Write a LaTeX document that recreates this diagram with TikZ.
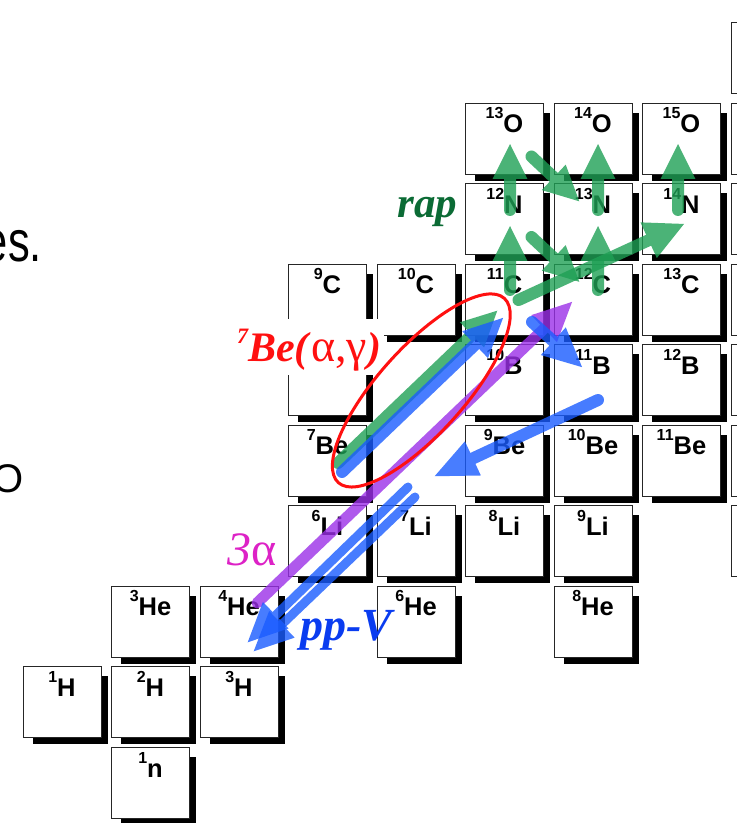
\documentclass[tikz,border=0pt]{standalone}
\usepackage{fontspec}
\setmainfont{Liberation Serif}
\setsansfont{Liberation Sans}
\usetikzlibrary{calc,arrows.meta,shapes.geometric,shadows}
\definecolor{rapgreen}{HTML}{1FA055}
\definecolor{rapink}{HTML}{0B6B35}
\definecolor{ppblue}{HTML}{1A5CFF}
\definecolor{ppink}{HTML}{0A3CF0}
\definecolor{tripleviolet}{HTML}{9B30E8}
\definecolor{tripleink}{HTML}{DD22C6}
\definecolor{ringred}{HTML}{FF1010}
\newcommand{\nuc}[2]{\raisebox{14pt}{\fontsize{16}{16}\selectfont #1}#2}

\begin{document}
\begin{tikzpicture}[x=88.5pt, y=80.5pt,
        iso/.style={draw=black!85, line width=0.8pt, fill=white, minimum width=78pt, minimum height=71pt,
                    inner sep=1pt, text height=20pt, text depth=31pt,
                    font=\sffamily\bfseries\fontsize{25.5}{26}\selectfont,
                    drop shadow={shadow scale=0.96, shadow xshift=8.5pt, shadow yshift=-8.5pt,
                                 opacity=1, fill=black}},
        glass/.style={transparency group, opacity=0.8},
        flow/.style={line width=12pt, line cap=round},
        rapflow/.style={flow, draw=rapgreen, -{Triangle[length=36pt, width=32pt]}},
        ppflow/.style={flow, draw=ppblue, -{Triangle[length=40pt, width=34pt]}},
        triflow/.style={flow, line width=11pt, draw=tripleviolet, -{Triangle[length=40pt, width=34pt]}}
      ]
        \useasboundingbox (-62pt,-40.5pt) rectangle (675pt,782.5pt);
        \clip (-62pt,-40.5pt) rectangle (675pt,782.5pt);

        % chart of nuclides, x = N, y = Z
        \node[iso] (n1)   at (1,0) {\nuc{1}{n}};
        \node[iso] (h1)   at (0,1) {\nuc{1}{H}};
        \node[iso] (h2)   at (1,1) {\nuc{2}{H}};
        \node[iso] (h3)   at (2,1) {\nuc{3}{H}};
        \node[iso] (he3)  at (1,2) {\nuc{3}{He}};
        \node[iso] (he4)  at (2,2) {\nuc{4}{He}};
        \node[iso] (he6)  at (4,2) {\nuc{6}{He}};
        \node[iso] (he8)  at (6,2) {\nuc{8}{He}};
        \node[iso] (li6)  at (3,3) {\nuc{6}{Li}};
        \node[iso] (li7)  at (4,3) {\nuc{7}{Li}};
        \node[iso] (li8)  at (5,3) {\nuc{8}{Li}};
        \node[iso] (li9)  at (6,3) {\nuc{9}{Li}};
        \node[iso] (be7)  at (3,4) {\nuc{7}{Be}};
        \node[iso] (be9)  at (5,4) {\nuc{9}{Be}};
        \node[iso] (be10) at (6,4) {\nuc{10}{Be}};
        \node[iso] (be11) at (7,4) {\nuc{11}{Be}};
        \node[iso] (b8)   at (3,5) {};
        \node[iso] (b10)  at (5,5) {\nuc{10}{B}};
        \node[iso] (b11)  at (6,5) {\nuc{11}{B}};
        \node[iso] (b12)  at (7,5) {\nuc{12}{B}};
        \node[iso] (c9)   at (3,6) {\nuc{9}{C}};
        \node[iso] (c10)  at (4,6) {\nuc{10}{C}};
        \node[iso] (c11)  at (5,6) {\nuc{11}{C}};
        \node[iso] (c12)  at (6,6) {\nuc{12}{C}};
        \node[iso] (c13)  at (7,6) {\nuc{13}{C}};
        \node[iso] (n12)  at (5,7) {\nuc{12}{N}};
        \node[iso] (n13)  at (6,7) {\nuc{13}{N}};
        \node[iso] (n14)  at (7,7) {\nuc{14}{N}};
        \node[iso] (o13)  at (5,8) {\nuc{13}{O}};
        \node[iso] (o14)  at (6,8) {\nuc{14}{O}};
        \node[iso] (o15)  at (7,8) {\nuc{15}{O}};
        % cut off at the right edge
        \node[iso] (li11) at (8,3) {};
        \node[iso] (be12) at (8,4) {};
        \node[iso] (b13)  at (8,5) {};
        \node[iso] (c14)  at (8,6) {};
        \node[iso] (n15)  at (8,7) {};
        \node[iso] (o16)  at (8,8) {};
        \node[iso] (f17)  at (8,9) {};
        \coordinate (be8) at (4,4);

        \node[anchor=base east, inner sep=0pt, xscale=0.75, transform shape,
              font=\sffamily\fontsize{58}{58}\selectfont] (headtail) at (-20pt,520.5pt) {es.};
        \node[anchor=base east, inner sep=0pt, font=\sffamily\fontsize{40}{40}\selectfont] (linetail) at (-38pt,289.5pt) {O};

        \node[anchor=base east, fill=white, inner sep=3pt, text height=40pt, text depth=10pt, text=ringred,
              font=\fontsize{42}{42}\selectfont] (bexn) at ($(b8)+(57pt,18pt)$)
          {\textbf{\textit{\raisebox{18pt}{\fontsize{22}{22}\selectfont 7}Be(}}{\fontsize{46}{46}\selectfont α,γ}\textbf{\textit{)}}};

        % rap
        \scoped[glass] \draw[rapflow] ($(be7)+(10.5pt,-2.5pt)$) -- ($(c11)+(-6.5pt,-10.5pt)$);
        \scoped[glass] \draw[rapflow] ($(c11)+(5.5pt,9.5pt)$) -- ($(n12)+(5.5pt,-6pt)$);
        \scoped[glass] \draw[rapflow] ($(n12)+(5.5pt,9pt)$) -- ($(o13)+(5.5pt,-4.5pt)$);
        \scoped[glass] \draw[rapflow] ($(c12)+(5pt,9.5pt)$) -- ($(n13)+(5pt,-6pt)$);
        \scoped[glass] \draw[rapflow] ($(n13)+(5pt,9pt)$) -- ($(o14)+(5pt,-4.5pt)$);
        \scoped[glass] \draw[rapflow] ($(n14)+(-3.5pt,9pt)$) -- ($(o15)+(-3.5pt,-4.5pt)$);
        \scoped[glass] \draw[rapflow] ($(o13)+(27pt,-18pt)$) -- ($(n13)+(-13pt,17pt)$);
        \scoped[glass] \draw[rapflow] ($(n12)+(27pt,-18pt)$) -- ($(c12)+(-13pt,17pt)$);
        \scoped[glass] \draw[rapflow, -{Triangle[length=40pt, width=36pt]}] ($(c11)+(14pt,-0.5pt)$) -- ($(n14)+(3.5pt,-4.5pt)$);

        % 3 alpha
        \scoped[glass] \draw[triflow] ($(he4)+(18pt,18.5pt)$) -- ($(c12)+(-20pt,-1.5pt)$);

        % pp chains
        \scoped[glass] \draw[ppflow] ($(be7)+(14.5pt,-11.5pt)$) -- ($(c11)+(-0.5pt,-17.5pt)$);
        \scoped[glass] \draw[ppflow] ($(c11)+(27.5pt,-22.5pt)$) -- ($(b11)+(-10pt,12pt)$);
        \scoped[glass] \draw[ppflow, -{Triangle[length=44pt, width=34pt]}] ($(b11)+(5pt,-20pt)$) -- ($(be8)+(17pt,-16.5pt)$);
        \scoped[glass] \draw[ppflow, line width=9pt] ($(li7)+(-8pt,54pt)$) -- ($(he4)+(8pt,-21.5pt)$);
        \scoped[glass] \draw[ppflow, line width=9pt] ($(li7)+(-1pt,44pt)$) -- ($(he4)+(14pt,-30.5pt)$);

        \node[draw=ringred, line width=3pt, ellipse, minimum width=248pt, minimum height=86pt,
              inner sep=0pt, rotate=48] (ring) at (4.06,4.87) {};

        \node[anchor=base east, inner sep=0pt, text=rapink, font=\bfseries\itshape\fontsize{43}{43}\selectfont]
          (raptag) at ($(n12)+(-47pt,1pt)$) {rap};
        \node[anchor=base east, inner sep=0pt, text=tripleink, font=\fontsize{48}{48}\selectfont]
          (tritag) at ($(li6)+(-50.5pt,-25pt)$) {\textit{3}α};
        \node[anchor=base west, inner sep=0pt, text=ppink, font=\bfseries\itshape\fontsize{46}{46}\selectfont]
          (pptag) at ($(he4)+(61pt,-18.5pt)$) {pp-V};
      \end{tikzpicture}
\end{document}
